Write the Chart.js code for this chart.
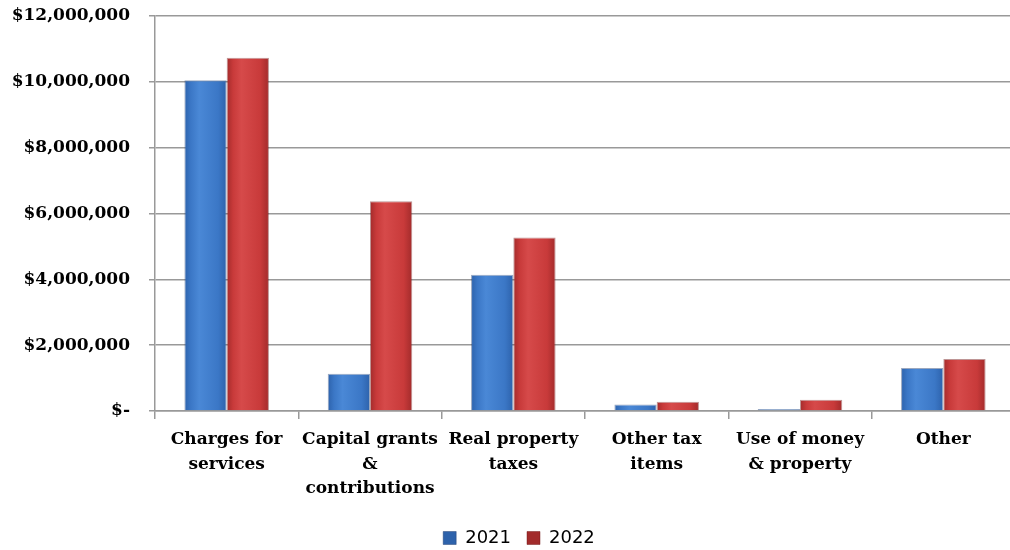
<!DOCTYPE html>
<html>
<head>
<meta charset="utf-8">
<script src="https://cdn.jsdelivr.net/npm/chart.js@4.4.1/dist/chart.umd.min.js"></script>
<style>
    html, body { margin: 0; padding: 0; background: #fff; overflow: hidden; }
    #wrap { position: relative; width: 1015px; height: 557px; }
</style>
</head>
<body>
<div id="wrap"><canvas id="revChart"></canvas></div>
<script>
// ======================================================
// DATA
// ======================================================
const categories = [
    ["Charges for", "services"],
    ["Capital grants", "&", "contributions"],
    ["Real property", "taxes"],
    ["Other tax", "items"],
    ["Use of money", "& property"],
    ["Other"]
];
const seriesNames = ["2021", "2022"];
const values2021 = [10050000, 1130000, 4140000, 200000, 60000, 1310000];
const values2022 = [10730000, 6370000, 5270000, 280000, 340000, 1580000];
const yTicks = [0, 2000000, 4000000, 6000000, 8000000, 10000000, 12000000];

// edge, mid, highlight
const BLUE = ["#2d62ab", "#3b77c6", "#4a88d6"];
const RED = ["#a22b2b", "#c83a3a", "#d64a4a"];

// horizontal "cylinder" shading for each bar
function barFill(cols) {
    return (ctx) => {
        const el = ctx.element;
        if (!el || !isFinite(el.x) || !el.width) return cols[1];
        const g = ctx.chart.ctx.createLinearGradient(el.x - el.width / 2, 0, el.x + el.width / 2, 0);
        g.addColorStop(0, cols[0]);
        g.addColorStop(0.15, cols[1]);
        g.addColorStop(0.35, cols[2]);
        g.addColorStop(0.8, cols[1]);
        g.addColorStop(1, cols[0]);
        return g;
    };
}

// legend sits a little right of the page centre in the original
const legendNudge = {
    id: "legendNudge",
    afterLayout(chart) {
        if (chart.legend) chart.legend.left += 23;
    }
};

const labelFont = { family: "'DejaVu Serif', serif", size: 17, weight: "bold" };

const chart = new Chart(document.getElementById("revChart"), {
    type: "bar",
    data: {
        labels: categories,
        datasets: [
            { label: seriesNames[0], data: values2021, backgroundColor: barFill(BLUE),
              borderColor: "rgba(30,60,110,0.45)", borderWidth: 1 },
            { label: seriesNames[1], data: values2022, backgroundColor: barFill(RED),
              borderColor: "rgba(110,20,20,0.45)", borderWidth: 1 }
        ]
    },
    options: {
        responsive: true,
        maintainAspectRatio: false,
        animation: false,
        devicePixelRatio: 1,
        layout: { padding: { top: 16, left: 0, right: 0, bottom: 0 } },
        datasets: { bar: { categoryPercentage: 0.59, barPercentage: 1 } },
        scales: {
            x: {
                grid: { offset: true, drawOnChartArea: false, color: "#999", lineWidth: 1.5, tickLength: 8 },
                border: { color: "#999", width: 1.5 },
                ticks: { color: "#000", font: { ...labelFont, lineHeight: 1.42 }, maxRotation: 0, autoSkip: false, padding: 9 },
                afterFit: (s) => { s.height = 102; }
            },
            y: {
                min: 0,
                max: 12000000,
                afterBuildTicks: (s) => { s.ticks = yTicks.map(v => ({ value: v })); },
                grid: { color: "#999", lineWidth: 1.5, tickLength: 6 },
                border: { color: "#999", width: 1.5 },
                ticks: {
                    color: "#000",
                    font: labelFont,
                    padding: 19,
                    callback: (v) => v === 0 ? "$-" : "$" + Number(v).toLocaleString("en-US")
                },
                afterFit: (s) => { s.width = 155; s.paddingTop = 0; s.paddingBottom = 0; }
            }
        },
        plugins: {
            legend: {
                position: "bottom",
                labels: {
                    color: "#000",
                    font: { family: "'DejaVu Sans', sans-serif", size: 18 },
                    boxWidth: 13,
                    boxHeight: 13,
                    padding: 16
                }
            },
            tooltip: { enabled: false }
        }
    },
    plugins: [legendNudge]
});

// second pass so bar elements have their x/width for the gradients
chart.update("none");
</script>
</body>
</html>
